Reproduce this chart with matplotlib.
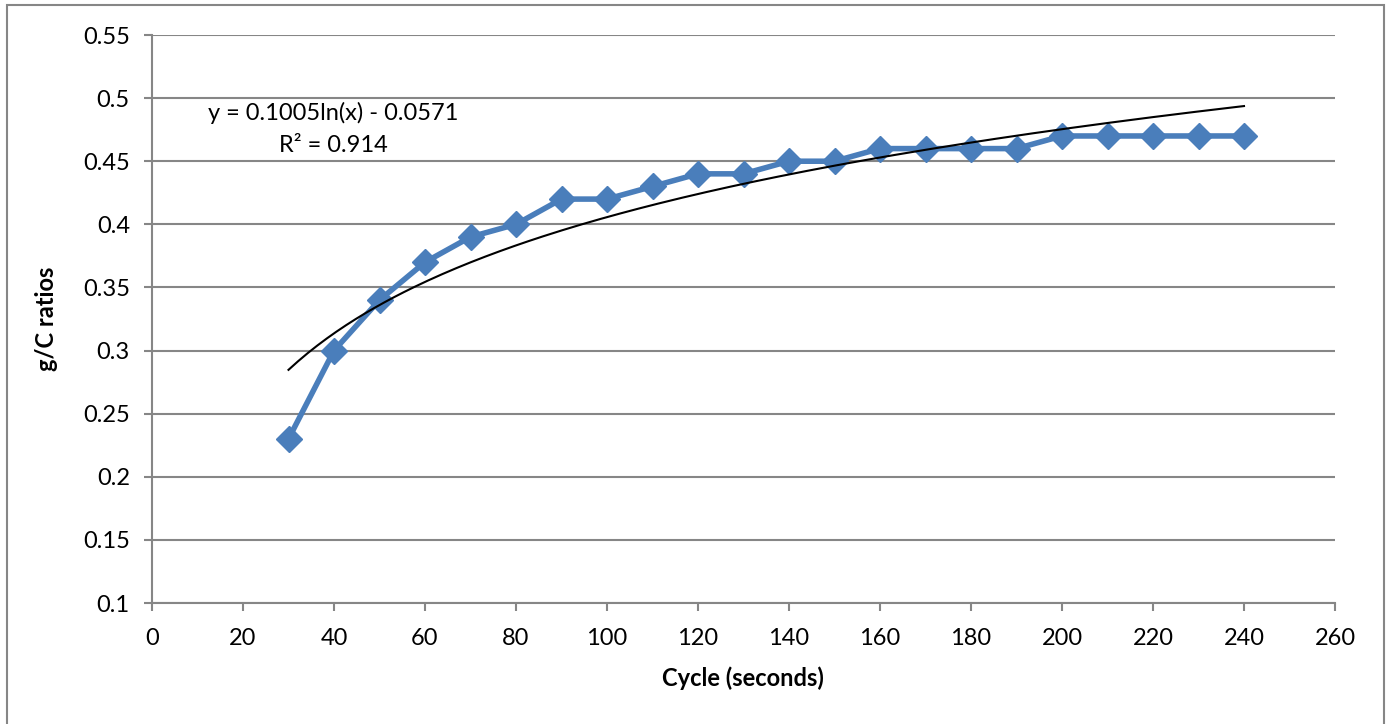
import matplotlib
matplotlib.use("Agg")
import matplotlib.pyplot as plt
import numpy as np

plt.rcParams['font.family'] = ['Lato', 'DejaVu Sans']

# data
cycle = [30, 40, 50, 60, 70, 80, 90, 100, 110, 120, 130, 140, 150,
         160, 170, 180, 190, 200, 210, 220, 230, 240]
gc_ratio = [0.23, 0.30, 0.34, 0.37, 0.39, 0.40, 0.42, 0.42, 0.43, 0.44, 0.44, 0.45, 0.45,
            0.46, 0.46, 0.46, 0.46, 0.47, 0.47, 0.47, 0.47, 0.47]

# log trendline as printed on the chart
trend_a = 0.1005
trend_b = -0.0571
trend_label = "y = 0.1005ln(x) - 0.0571"
r2_label = "R\u00b2 = 0.914"

xticks = list(range(0, 261, 20))
yticks = [0.1, 0.15, 0.2, 0.25, 0.3, 0.35, 0.4, 0.45, 0.5, 0.55]
ytick_labels = ["0.1", "0.15", "0.2", "0.25", "0.3", "0.35", "0.4", "0.45", "0.5", "0.55"]

grey = '#868686'
blue = '#4A7EBB'
fs = 17

fig = plt.figure(figsize=(13.9, 7.24), dpi=100)
ax = fig.add_axes([152/1390, 1 - 603/724, (1335 - 152)/1390, (603 - 35)/724])

# outer chart border
fig.patches.append(plt.Rectangle((7/1390, -0.05), (1384 - 7)/1390, 1.05 - 5/724,
                                 transform=fig.transFigure, fill=False,
                                 edgecolor=grey, linewidth=1.5))

ax.set_xlim(0, 260)
ax.set_ylim(0.1, 0.55)
ax.set_xticks(xticks)
ax.set_yticks(yticks)
ax.set_yticklabels(ytick_labels)
ax.yaxis.grid(True, color=grey, linewidth=1.5)
ax.set_axisbelow(True)

for side in ['top', 'right']:
    ax.spines[side].set_visible(False)
for side in ['left', 'bottom']:
    ax.spines[side].set_color(grey)
    ax.spines[side].set_linewidth(1.5)
ax.tick_params(axis='both', direction='out', length=6, width=1.5, color=grey,
               labelsize=fs, labelcolor='black')
ax.tick_params(axis='x', pad=12)
ax.tick_params(axis='y', pad=10)

ax.plot(cycle, gc_ratio, color=blue, linewidth=4, marker='D', markersize=13,
        markerfacecolor=blue, markeredgecolor=blue, zorder=3)

tx = np.linspace(min(cycle), max(cycle), 200)
ax.plot(tx, trend_a * np.log(tx) + trend_b, color='black', linewidth=1.5, zorder=4)

ax.text(333/1390, 1 - 113/724, trend_label, transform=fig.transFigure,
        ha='center', va='center', fontsize=fs)
ax.text(333/1390, 1 - 145/724, r2_label, transform=fig.transFigure,
        ha='center', va='center', fontsize=fs)

fig.text(743/1390, 1 - 678/724, 'Cycle (seconds)', fontsize=fs, fontweight='bold',
         ha='center', va='center')
fig.text(47/1390, 1 - 319/724, 'g/C ratios', fontsize=fs, fontweight='bold',
         ha='center', va='center', rotation=90)

fig.savefig('out.png', dpi=100)
